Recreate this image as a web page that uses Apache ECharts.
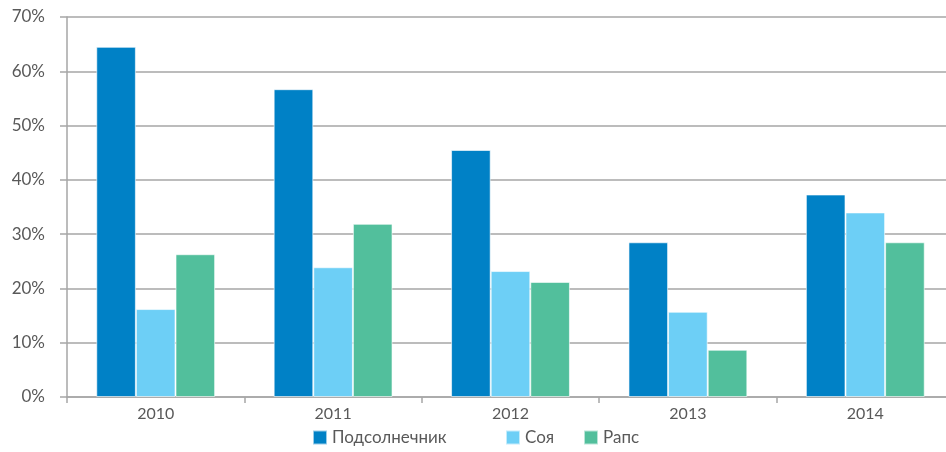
<!DOCTYPE html>
<html>
<head>
<meta charset="utf-8">
<script src="https://cdn.jsdelivr.net/npm/echarts@6/dist/echarts.min.js"></script>
<style>
  html, body { margin: 0; padding: 0; background: #fff; }
  #chart { width: 946px; height: 452px; }
</style>
</head>
<body>
<div id="chart"></div>
<script>
const years = ["2010", "2011", "2012", "2013", "2014"];
const sunflower = [64.5, 56.7, 45.5, 28.5, 37.3];
const soy = [16.2, 23.9, 23.2, 15.7, 34.0];
const rapeseed = [26.3, 31.9, 21.2, 8.7, 28.5];
const seriesNames = ["Подсолнечник", "Соя", "Рапс"];
const colors = ["#0081c6", "#6dcff6", "#52bf9c"];

const chart = echarts.init(document.getElementById("chart"));

const barStyle = (color) => ({
  color: color,
  borderColor: "rgba(255,255,255,0.6)",
  borderWidth: 1,
});

// one legend per item, so the uneven spacing of the original can be kept
const legendAt = (name, left) => ({
  bottom: 1,
  left: left,
  itemWidth: 14,
  itemHeight: 14,
  itemGap: 6,
  icon: "rect",
  textStyle: { color: "#595959", fontSize: 17 },
  data: [name],
});

chart.setOption({
  animation: false,
  color: colors,
  textStyle: { fontFamily: "Lato, 'Open Sans', sans-serif" },
  // plot area runs a little past the right edge, as in the original
  grid: { left: 67, width: 887, top: 17, bottom: 55, outerBoundsMode: "none" },
  legend: [
    legendAt(seriesNames[0], 307),
    legendAt(seriesNames[1], 500),
    legendAt(seriesNames[2], 578),
  ],
  xAxis: {
    type: "category",
    data: years,
    axisLine: { lineStyle: { color: "#a6a6a6", width: 1.5 } },
    axisTick: { show: true, length: 6, lineStyle: { color: "#a6a6a6", width: 1.5 } },
    axisLabel: { color: "#595959", fontSize: 16, margin: 9 },
  },
  yAxis: {
    type: "value",
    min: 0,
    max: 70,
    interval: 10,
    axisLine: { show: true, lineStyle: { color: "#a6a6a6", width: 1.5 } },
    axisTick: { show: true, inside: false, length: 7, lineStyle: { color: "#a6a6a6", width: 1.5 } },
    axisLabel: { color: "#595959", fontSize: 17, margin: 22, formatter: "{value}%" },
    splitLine: { lineStyle: { color: "#a6a6a6", width: 1.5 } },
  },
  series: [
    {
      name: seriesNames[0],
      type: "bar",
      data: sunflower,
      barGap: "0%",
      barCategoryGap: "33%",
      itemStyle: barStyle(colors[0]),
    },
    {
      name: seriesNames[1],
      type: "bar",
      data: soy,
      itemStyle: barStyle(colors[1]),
    },
    {
      name: seriesNames[2],
      type: "bar",
      data: rapeseed,
      itemStyle: barStyle(colors[2]),
    },
  ],
});
</script>
</body>
</html>
